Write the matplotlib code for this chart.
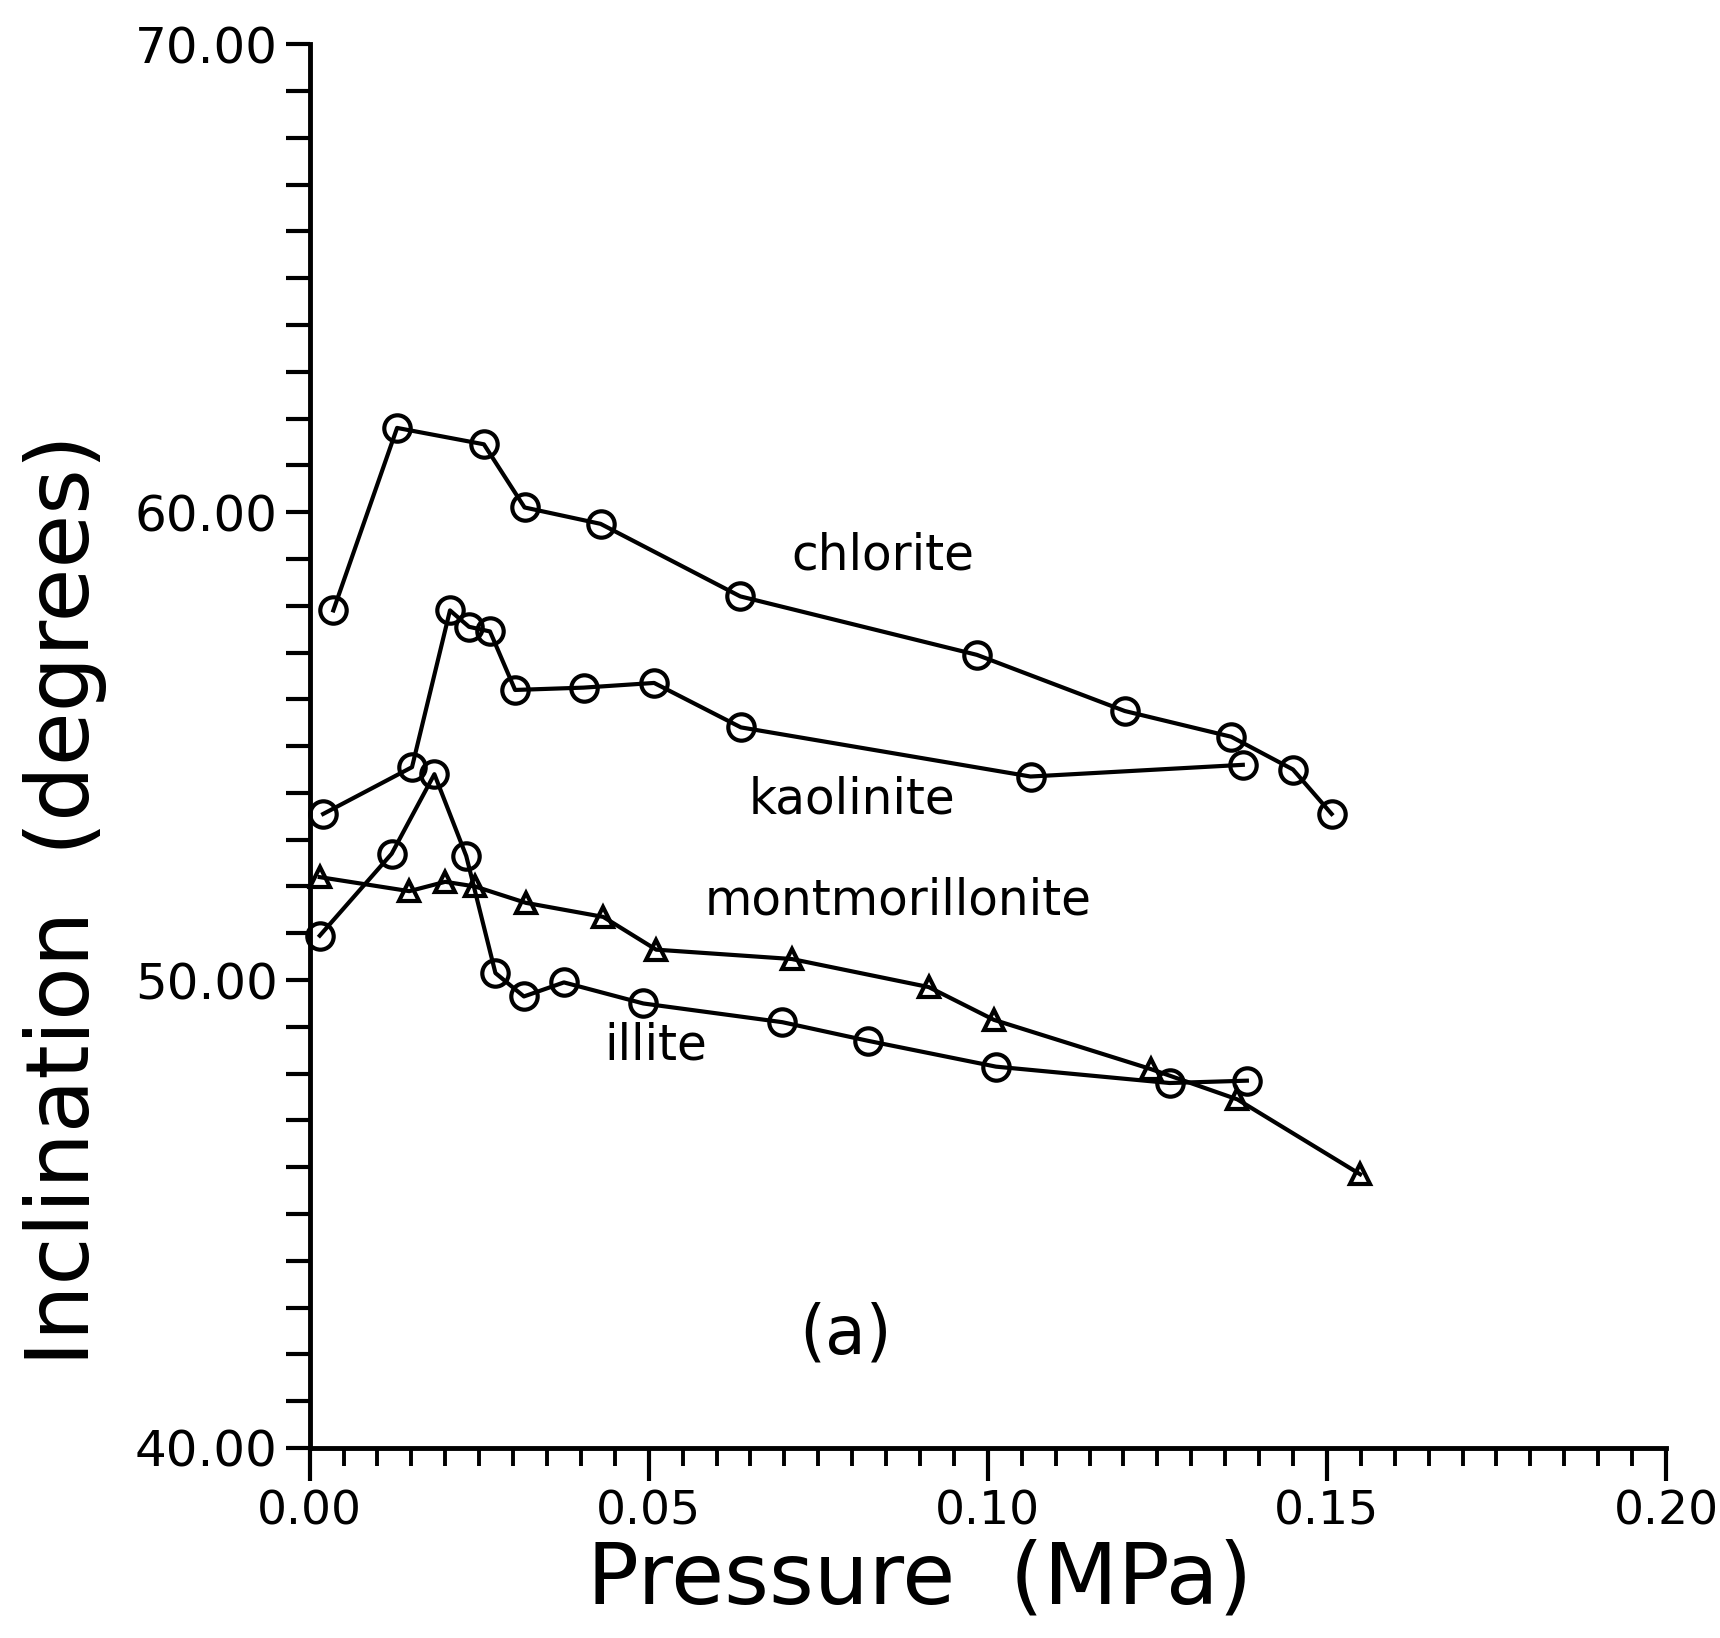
import matplotlib
matplotlib.use("Agg")
import matplotlib.pyplot as plt
from matplotlib.ticker import MultipleLocator, FormatStrFormatter

# values
chlorite_p = [0.0035, 0.0129, 0.0257, 0.0317, 0.0429, 0.0635, 0.0984, 0.1202, 0.1359, 0.1450, 0.1507]
chlorite_i = [57.9, 61.8, 61.45, 60.1, 59.75, 58.2, 56.95, 55.75, 55.2, 54.5, 53.55]

kaolinite_p = [0.002, 0.0151, 0.0207, 0.0235, 0.0266, 0.0303, 0.0404, 0.0508, 0.0636, 0.1063, 0.1376]
kaolinite_i = [53.55, 54.55, 57.9, 57.55, 57.45, 56.2, 56.25, 56.35, 55.4, 54.35, 54.6]

montmor_p = [0.0015, 0.0147, 0.0200, 0.0244, 0.0319, 0.0433, 0.0511, 0.0711, 0.0913, 0.1009, 0.1240, 0.1368, 0.1549]
montmor_i = [52.2, 51.9, 52.1, 52.0, 51.65, 51.35, 50.65, 50.45, 49.85, 49.15, 48.1, 47.45, 45.85]

illite_p = [0.0015, 0.0121, 0.0184, 0.0231, 0.0274, 0.0316, 0.0375, 0.0492, 0.0697, 0.0824, 0.1012, 0.1268, 0.1382]
illite_i = [50.95, 52.7, 54.4, 52.65, 50.15, 49.65, 49.95, 49.5, 49.1, 48.7, 48.15, 47.8, 47.85]

labels = ["chlorite", "kaolinite", "montmorillonite", "illite"]
label_pos = [(0.0845, 59.07), (0.0800, 53.85), (0.0868, 51.69), (0.0510, 48.60)]

plt.rcParams['font.family'] = ['DejaVu Sans']

fig = plt.figure(figsize=(17.2, 16.38), dpi=100)
ax = fig.add_axes([0.180, 0.116, 0.7886, 0.857])

line_kw = dict(color='black', linewidth=3.0, markersize=19, markeredgewidth=3.0,
               fillstyle='none', clip_on=False)
ax.plot(chlorite_p, chlorite_i, marker='o', **line_kw)
ax.plot(kaolinite_p, kaolinite_i, marker='o', **line_kw)
ax.plot(illite_p, illite_i, marker='o', **line_kw)
tri_kw = dict(line_kw)
tri_kw['markersize'] = 15
ax.plot(montmor_p, montmor_i, marker='^', **tri_kw)

for name, (px, py) in zip(labels, label_pos):
    ax.text(px, py, name, fontsize=35, ha='center', va='center')
ax.text(0.0790, 42.43, "(a)", fontsize=48, ha='center', va='center')

ax.set_xlim(0, 0.20)
ax.set_ylim(40, 70)
ax.spines['top'].set_visible(False)
ax.spines['right'].set_visible(False)
ax.spines['left'].set_linewidth(3.5)
ax.spines['bottom'].set_linewidth(3.5)

ax.xaxis.set_major_locator(MultipleLocator(0.05))
ax.xaxis.set_minor_locator(MultipleLocator(0.005))
ax.yaxis.set_major_locator(MultipleLocator(10))
ax.yaxis.set_minor_locator(MultipleLocator(1))
ax.xaxis.set_major_formatter(FormatStrFormatter('%.2f'))
ax.yaxis.set_major_formatter(FormatStrFormatter('%.2f'))

ax.tick_params(axis='x', which='major', direction='out', length=24, width=3,
               labelsize=34, pad=6)
ax.tick_params(axis='x', which='minor', direction='out', length=13, width=2.8)
ax.tick_params(axis='y', which='both', direction='out', length=17, width=3,
               labelsize=36, pad=6)
for lbl in ax.get_xticklabels():
    if lbl.get_text() == "0.20":
        lbl.set_ha('center')

ax.set_xlabel("Pressure  (MPa)", fontsize=62, va='center')
ax.xaxis.set_label_coords(0.45, -0.094)
ax.set_ylabel("Inclination  (degrees)", fontsize=63, va='center')
ax.yaxis.set_label_coords(-0.180, 0.39)

fig.savefig("out.png", dpi=100, facecolor='white')
